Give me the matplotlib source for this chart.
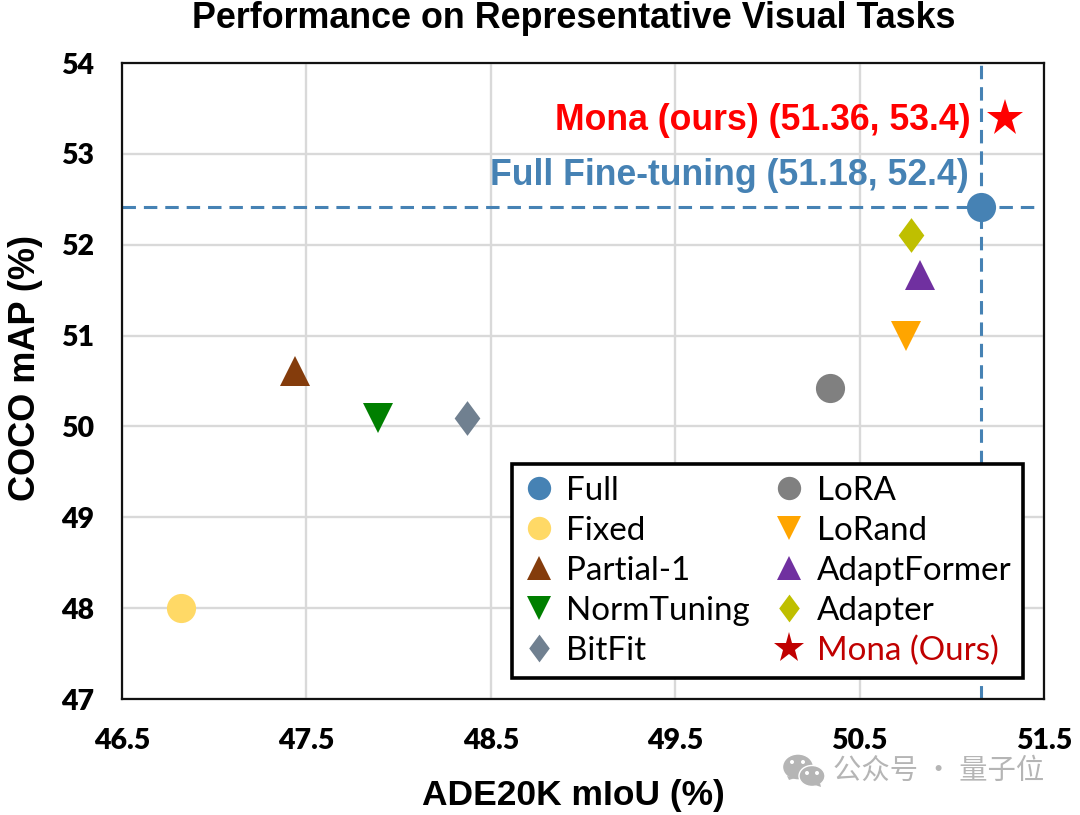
import matplotlib
matplotlib.use('Agg')
import matplotlib.pyplot as plt
from matplotlib.patches import Ellipse, Polygon
from matplotlib.path import Path

methods = ['Full', 'Fixed', 'Partial-1', 'NormTuning', 'BitFit', 'LoRA', 'LoRand', 'AdaptFormer', 'Adapter', 'Mona (Ours)']
miou = [51.16, 46.82, 47.44, 47.89, 48.37, 50.34, 50.75, 50.83, 50.78, 51.29]
map_vals = [52.41, 48.0, 50.61, 50.09, 50.09, 50.42, 51.0, 51.67, 52.11, 53.39]
xticks = [46.5, 47.5, 48.5, 49.5, 50.5, 51.5]
yticks = [47, 48, 49, 50, 51, 52, 53, 54]

diamond = Path([(0, 1), (0.74, 0), (0, -1), (-0.74, 0), (0, 1)], closed=True)
markers = ['o', 'o', '^', 'v', diamond, 'o', 'v', '^', diamond, '*']
colors = ['#4682b4', '#ffd966', '#843c0c', '#007f00', '#708090', '#808080', '#ffa500', '#7030a0', '#bfbf00', '#ff0000']
sizes = [21, 21, 21, 21, 25, 21, 21, 21, 25, 28]

fig = plt.figure(figsize=(10.8, 8.15), dpi=100)
ax = fig.add_axes([122 / 1080, 1 - 699 / 815, 922 / 1080, 636 / 815])

ax.grid(color='#d9d9d9', linewidth=1.7)
ax.set_axisbelow(True)
dash = (0, (4.4, 2.6))
ax.axvline(miou[0], color='#4682b4', linestyle=dash, linewidth=2.2, zorder=2)
ax.axhline(map_vals[0], xmax=0.995, color='#4682b4', linestyle=dash, linewidth=2.2, zorder=2)

handles = []
for i in range(len(methods)):
    h, = ax.plot([miou[i]], [map_vals[i]], marker=markers[i], color=colors[i], markersize=sizes[i],
                 linestyle='none', markeredgewidth=0, label=methods[i], zorder=3)
    handles.append(h)

ax.set_xlim(46.5, 51.5)
ax.set_ylim(47, 54)
ax.set_xticks(xticks)
ax.set_yticks(yticks)
ax.set_xticklabels([str(x) for x in xticks], fontfamily='Lato', fontweight='heavy', fontsize=20.5)
ax.set_yticklabels([str(y) for y in yticks], fontfamily='Lato', fontweight='heavy', fontsize=20.5)
ax.tick_params(axis='x', length=0, pad=21)
ax.tick_params(axis='y', length=0, pad=20)
for s in ax.spines.values():
    s.set_linewidth(1.6)
    s.set_color('#111111')

ax.set_title('Performance on Representative Visual Tasks', fontfamily='Liberation Sans',
             fontweight='bold', fontsize=25.8, pad=25, x=0.49)
ax.set_xlabel('ADE20K mIoU (%)', fontfamily='Liberation Sans', fontweight='bold', fontsize=25.5, labelpad=18, x=0.49)
ax.set_ylabel('COCO mAP (%)', fontfamily='Liberation Sans', fontweight='bold', fontsize=26, labelpad=13, y=0.52)

ax.text(51.10, 53.37, 'Mona (ours) (51.36, 53.4)', color='#ff0000', fontfamily='Liberation Sans',
        fontweight='bold', fontsize=25.7, ha='right', va='center')
ax.text(51.09, 52.76, 'Full Fine-tuning (51.18, 52.4)', color='#4682b4', fontfamily='Liberation Sans',
        fontweight='bold', fontsize=25.7, ha='right', va='center')

leg = ax.legend(handles=handles, ncol=2, loc='lower left', bbox_to_anchor=(390 / 922, 21 / 636),
                prop={'family': 'Lato', 'size': 23.9}, frameon=True, fancybox=False, framealpha=1,
                edgecolor='black', labelspacing=0.3, columnspacing=0.72, handletextpad=0.36,
                handlelength=0.92, borderpad=0.36, borderaxespad=0, markerscale=0.8)
leg.get_frame().set_linewidth(2.6)
leg.set_zorder(5)
leg.get_texts()[-1].set_color('#c00000')
leg.legend_handles[-1].set_color('#c00000')

# watermark
fig.text(833 / 1080, 1 - 771 / 815, '公众号 · 量子位', family=['Noto Sans CJK SC', 'DejaVu Sans'],
         color='#b5b5b5', fontsize=20.4, va='center', ha='left')
def px(x, y):
    return (x / 1080, 1 - y / 815)
w = 1080
h = 815
for cx, cy, ew, eh in [(798, 767, 31, 26), (812, 776, 26, 21)]:
    fig.add_artist(Ellipse(px(cx, cy), ew / w, eh / h, transform=fig.transFigure, facecolor='#b5b5b5',
                           edgecolor='white', linewidth=1))
fig.add_artist(Polygon([px(787, 776), px(789, 780), px(795, 778)], transform=fig.transFigure, facecolor='#b5b5b5', edgecolor='none'))
fig.add_artist(Polygon([px(815, 785), px(821, 787), px(820, 783)], transform=fig.transFigure, facecolor='#b5b5b5', edgecolor='none'))
for cx, cy in [(792, 762), (803, 762), (807, 773), (817, 773)]:
    fig.add_artist(Ellipse(px(cx, cy), 4 / w, 4 / h, transform=fig.transFigure, facecolor='white', edgecolor='none'))

fig.savefig('out.png', dpi=100)
